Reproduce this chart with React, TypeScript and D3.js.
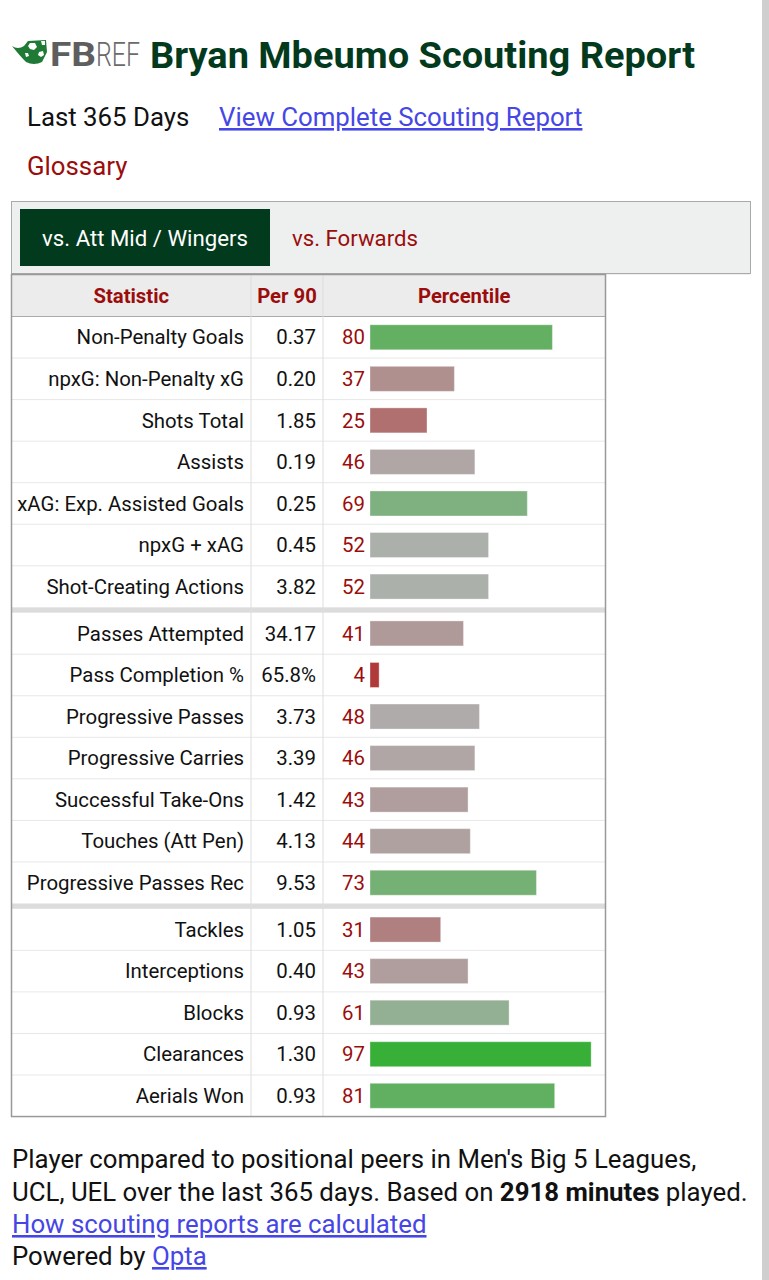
import React from "react";
import * as d3 from "d3";

const statistics = [
  "Non-Penalty Goals", "npxG: Non-Penalty xG", "Shots Total", "Assists",
  "xAG: Exp. Assisted Goals", "npxG + xAG", "Shot-Creating Actions",
  "Passes Attempted", "Pass Completion %", "Progressive Passes", "Progressive Carries",
  "Successful Take-Ons", "Touches (Att Pen)", "Progressive Passes Rec",
  "Tackles", "Interceptions", "Blocks", "Clearances", "Aerials Won",
];
const per90 = [
  "0.37", "0.20", "1.85", "0.19", "0.25", "0.45", "3.82",
  "34.17", "65.8%", "3.73", "3.39", "1.42", "4.13", "9.53",
  "1.05", "0.40", "0.93", "1.30", "0.93",
];
const percentiles = [80, 37, 25, 46, 69, 52, 52, 41, 4, 48, 46, 43, 44, 73, 31, 43, 61, 97, 81];
const groupOf = [0, 0, 0, 0, 0, 0, 0, 1, 1, 1, 1, 1, 1, 1, 2, 2, 2, 2, 2];
const headers = ["Statistic", "Per 90", "Percentile"];

const FONT = "Roboto, 'Noto Sans', sans-serif";
const RED = "#9b0d0d";
const BLUE = "#4646e6";

export default function App() {
  const W = 769, H = 1280;
  const tableL = 11.5, tableR = 605.5, tableTop = 274.5, headerH = 42;
  const rowH = 41.55, sepH = 5.3;
  const col1 = 251, col2 = 323;
  const rowTop = (i: number) => tableTop + headerH + i * rowH + groupOf[i] * sepH;
  const x = d3.scaleLinear().domain([0, 100]).range([370, 598]);
  const color = d3.scaleLinear<string>().domain([0, 50, 100])
    .range(["#b03030", "#b0b0b0", "#30b030"]).interpolate(d3.interpolateRgb);
  const tableBottom = rowTop(statistics.length - 1) + rowH;
  const sepYs = [7, 14].map((i) => rowTop(i) - sepH);
  const rowFont = 20.4;
  const bodyFont = 25.8;

  return (
    <svg width={W} height={H} style={{ position: "absolute", left: 0, top: 0, background: "#fff" }} fontFamily={FONT}>
      {/* scrollbar */}
      <rect x={762} y={0} width={7} height={H} fill="#cfcfcf" />

      {/* logo */}
      <g>
        <path d="M12,46 Q18,50 24,46 L28,41 L46,40 L47,52 L42,62 Q34,66 26,62 Q20,56 12,46 Z" fill="#1f7a35" />
        <path d="M30,43 L35,43 L37,47 L34,50 L30,49 L28,46 Z" fill="#fff" />
        <path d="M39,52 L43,51 L44,55 L41,57 L38,55 Z" fill="#fff" />
        <path d="M25,53 L28,53 L29,56 L26,57 Z" fill="#fff" />
        <path d="M41,41 L45,41 L45,45 L42,45 Z" fill="#fff" />
        <text x={50} y={66} fontSize={34} fontWeight={700} fill="#5e5e5e" textLength={46} lengthAdjust="spacingAndGlyphs">FB</text>
        <text x={96} y={66} fontSize={34} fontWeight={300} fill="#6a6a6a" textLength={44} lengthAdjust="spacingAndGlyphs">REF</text>
      </g>
      <text x={150} y={68} fontSize={36} fontWeight={700} fill="#033a1d" textLength={545} lengthAdjust="spacingAndGlyphs">Bryan Mbeumo Scouting Report</text>

      <text x={27} y={126} fontSize={bodyFont} fill="#111">Last 365 Days</text>
      <text x={219} y={126} fontSize={bodyFont} fill={BLUE} textDecoration="underline">View Complete Scouting Report</text>
      <text x={27} y={175} fontSize={bodyFont} fill={RED}>Glossary</text>

      {/* tabs */}
      <rect x={11.5} y={201.5} width={739} height={72} fill="#eeefef" stroke="#aaa" strokeWidth={1} />
      <rect x={12} y={274} width={738} height={1} fill="#eeefef" />
      <rect x={20} y={209} width={250} height={57} fill="#023a1e" />
      <text x={145} y={238} dy="0.35em" textAnchor="middle" fontSize={22.2} fill="#fff">vs. Att Mid / Wingers</text>
      <text x={292} y={238} dy="0.35em" fontSize={22.2} fill={RED}>vs. Forwards</text>

      {/* table */}
      <rect x={tableL} y={tableTop} width={tableR - tableL} height={tableBottom - tableTop} fill="#fff" />
      <rect x={tableL} y={tableTop} width={tableR - tableL} height={headerH} fill="#ececec" />
      {headers.map((h, i) => {
        const cx = [(tableL + col1) / 2, (col1 + col2) / 2, (col2 + tableR) / 2][i];
        return (
          <text key={h} x={cx} y={tableTop + headerH / 2} dy="0.35em" textAnchor="middle" fontSize={20.3} fontWeight={700} fill={RED}>{h}</text>
        );
      })}
      <line x1={tableL} x2={tableR} y1={tableTop + headerH} y2={tableTop + headerH} stroke="#aaa" />

      {statistics.map((s, i) => {
        const top = rowTop(i);
        const cy = top + rowH / 2;
        const p = percentiles[i];
        return (
          <g key={s}>
            {i > 0 && groupOf[i] === groupOf[i - 1] && (
              <line x1={tableL} x2={tableR} y1={top} y2={top} stroke="#cfcfcf" strokeDasharray="1,1" />
            )}
            <text x={244} y={cy} dy="0.35em" textAnchor="end" fontSize={rowFont} fill="#111">{s}</text>
            <text x={316} y={cy} dy="0.35em" textAnchor="end" fontSize={rowFont} fill="#111">{per90[i]}</text>
            <text x={365} y={cy} dy="0.35em" textAnchor="end" fontSize={rowFont} fill={RED}>{p}</text>
            <rect x={x(0)} y={cy - 12.5} width={x(p) - x(0)} height={25} fill={color(p)} stroke="#ffffff" strokeOpacity={0.35} strokeWidth={1} />
          </g>
        );
      })}
      {sepYs.map((y, i) => (
        <rect key={i} x={tableL} y={y} width={tableR - tableL} height={sepH} fill="#dcdcdc" />
      ))}
      <line x1={col1} x2={col1} y1={tableTop} y2={tableBottom} stroke="#ddd" />
      <line x1={col2} x2={col2} y1={tableTop} y2={tableBottom} stroke="#ddd" />
      <rect x={tableL} y={tableTop} width={tableR - tableL} height={tableBottom - tableTop} fill="none" stroke="#999" strokeWidth={1.5} />

      {/* footer */}
      <text x={12} y={1168} fontSize={bodyFont} fill="#111">Player compared to positional peers in Men's Big 5 Leagues,</text>
      <text x={12} y={1201} fontSize={bodyFont} fill="#111">
        UCL, UEL over the last 365 days. Based on <tspan fontWeight={700}>2918 minutes</tspan> played.
      </text>
      <text x={12} y={1233} fontSize={bodyFont} fill={BLUE} textDecoration="underline">How scouting reports are calculated</text>
      <text x={12} y={1265} fontSize={bodyFont} fill="#111">
        Powered by <tspan fill={BLUE} textDecoration="underline">Opta</tspan>
      </text>
    </svg>
  );
}
